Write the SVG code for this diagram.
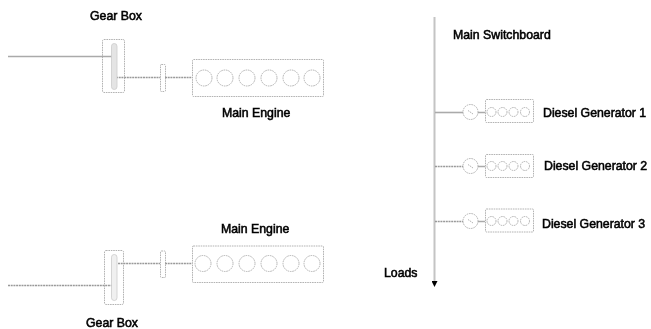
<svg xmlns="http://www.w3.org/2000/svg" width="651" height="329" viewBox="0 0 651 329">
<style>
text{font-family:"Liberation Sans",Arial,sans-serif;font-size:12.300px;fill:#000;stroke:#000;stroke-width:.55px}
.o{fill:none;stroke:#aaa;stroke-width:.9;stroke-dasharray:1.6 .8}
.b{fill:#e4e4e4;stroke:#ccc;stroke-width:.8}
.b2{fill:#f0f0f0;stroke:#ccc;stroke-width:.8}
.s{fill:none;stroke:#aaa;stroke-width:1.6}
.d{fill:none;stroke:#999;stroke-width:1.6;stroke-dasharray:2 .7}
.bus{fill:none;stroke:#c4c4c4;stroke-width:2}
</style>
<defs>
<filter id="blur" x="-5%" y="-5%" width="110%" height="110%"><feGaussianBlur stdDeviation="0.7"/></filter>
<marker id="arr" viewBox="0 0 6 6" refX="3" refY="3" markerWidth="6" markerHeight="6" markerUnits="userSpaceOnUse" orient="auto"><path d="M0 0L6 3L0 6Z" fill="#000"/></marker>
</defs>
<rect width="651" height="329" fill="#fff"/>
<g filter="url(#blur)">
<g id="connectors">
<path class="s" d="M8 56.500H112"/>
<path class="d" d="M116 77.500H160M165 77.500H192"/>
<path class="d" d="M8 285.500H112"/>
<path class="d" d="M118 263.500H160M165 263.500H192"/>
<path class="bus" d="M434.500 17V284" marker-end="url(#arr)"/>
<path class="s" d="M435 112.500H463"/>
<path class="d" d="M435 166.500H463"/>
<path class="d" d="M435 221.500H463"/>
<path class="s" d="M478 112.500H485M478 166.500H485M478 221.500H485"/>
</g>
<g id="gearbox-top">
<rect class="o" x="102.500" y="39.500" width="22" height="53" rx="1.500"/>
<rect class="b" x="111.500" y="43.500" width="5.500" height="46" rx="2.700"/>
<text x="90" y="19.500">Gear Box</text>
</g>
<g id="coupling-top"><rect class="o" x="160.500" y="64.500" width="5" height="27" rx="1"/></g>
<g id="engine-top">
<rect class="o" x="192.500" y="59.500" width="131" height="37" rx="1"/>
<circle class="o" cx="204" cy="78" r="8"/><circle class="o" cx="225" cy="78" r="8"/><circle class="o" cx="247" cy="78" r="8"/><circle class="o" cx="269" cy="78" r="8"/><circle class="o" cx="291" cy="78" r="8"/><circle class="o" cx="312" cy="78" r="8"/>
<text x="222" y="117">Main Engine</text>
</g>
<g id="gearbox-bottom">
<rect class="o" x="104.500" y="250.500" width="19" height="54" rx="1.500"/>
<rect class="b2" x="111.500" y="254.500" width="5.500" height="46" rx="2.700"/>
<text x="86" y="327">Gear Box</text>
</g>
<g id="coupling-bottom"><rect class="o" x="160.500" y="251" width="5" height="26.500" rx="1"/></g>
<g id="engine-bottom">
<rect class="o" x="192.500" y="246" width="131" height="36.500" rx="1"/>
<circle class="o" cx="203" cy="263.500" r="8"/><circle class="o" cx="225" cy="263.500" r="8"/><circle class="o" cx="247" cy="263.500" r="8"/><circle class="o" cx="269" cy="263.500" r="8"/><circle class="o" cx="291" cy="263.500" r="8"/><circle class="o" cx="312" cy="263.500" r="8"/>
<text x="221" y="233">Main Engine</text>
</g>
<g id="switchboard"><text x="453" y="39">Main Switchboard</text><text x="384" y="276.500">Loads</text></g>
<g id="generator-1">
<circle class="o" cx="470.500" cy="112" r="7.500"/><path class="o" d="M468 110.500L473 114"/>
<rect class="o" x="485.500" y="99.500" width="48" height="23" rx="1"/>
<circle class="o" cx="491.500" cy="112" r="4.500"/><circle class="o" cx="502.500" cy="112" r="4.500"/><circle class="o" cx="513.500" cy="112" r="4.500"/><circle class="o" cx="525" cy="112" r="4.500"/>
<text x="543" y="116.500">Diesel Generator 1</text>
</g>
<g id="generator-2">
<circle class="o" cx="470.500" cy="166" r="7.500"/><path class="o" d="M468 164.500L473 168"/>
<rect class="o" x="485.500" y="154.500" width="48" height="23" rx="1"/>
<circle class="o" cx="491.500" cy="166" r="4.500"/><circle class="o" cx="502.500" cy="166" r="4.500"/><circle class="o" cx="513.500" cy="166" r="4.500"/><circle class="o" cx="525" cy="166" r="4.500"/>
<text x="544" y="169.500">Diesel Generator 2</text>
</g>
<g id="generator-3">
<circle class="o" cx="470.500" cy="221" r="7.500"/><path class="o" d="M468 219.500L473 223"/>
<rect class="o" x="485.500" y="209" width="48" height="23" rx="1"/>
<circle class="o" cx="491.500" cy="221" r="4.500"/><circle class="o" cx="502.500" cy="221" r="4.500"/><circle class="o" cx="513.500" cy="221" r="4.500"/><circle class="o" cx="525" cy="221" r="4.500"/>
<text x="542" y="228">Diesel Generator 3</text>
</g>
</g>
</svg>
